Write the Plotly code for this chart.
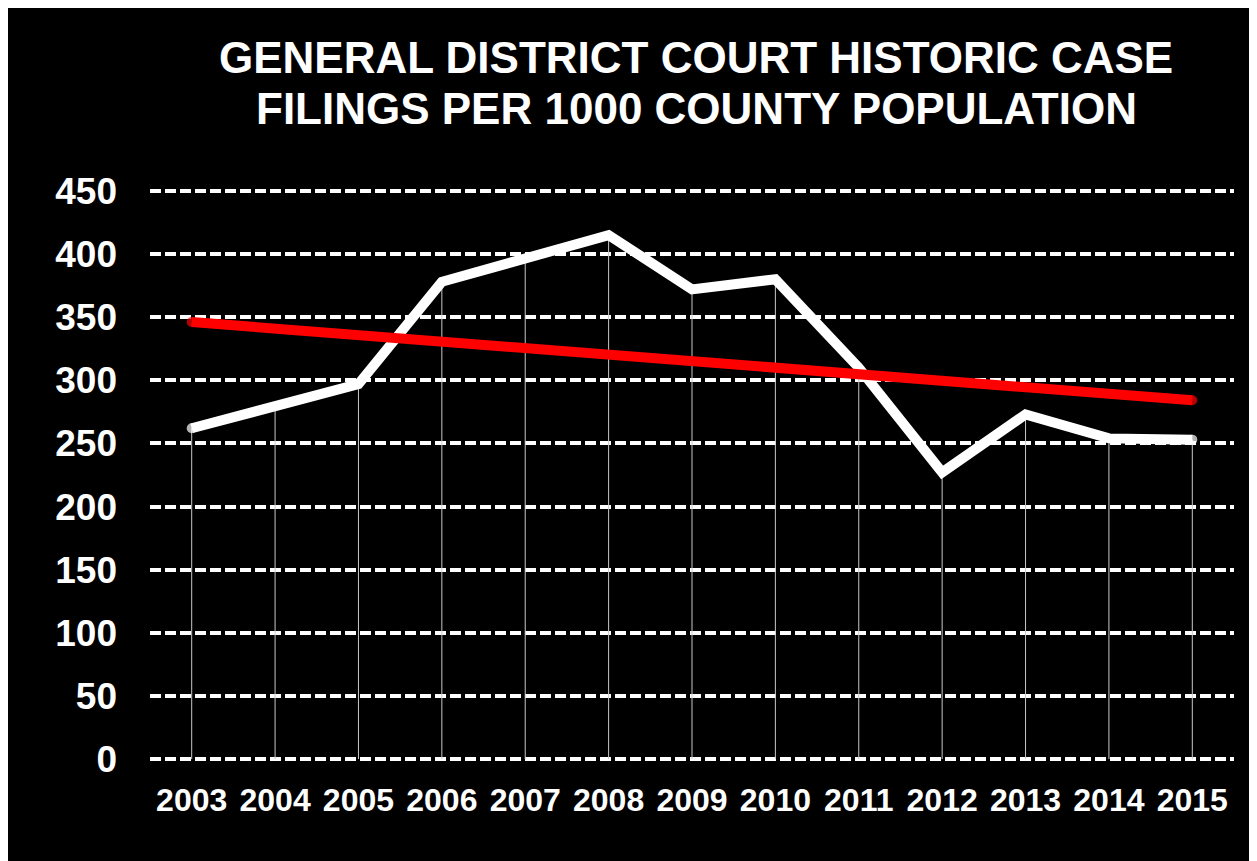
import numpy as np
import plotly.graph_objects as go

years = ["2003", "2004", "2005", "2006", "2007", "2008", "2009",
         "2010", "2011", "2012", "2013", "2014", "2015"]
filings = [262, 280, 297, 378, 396, 415, 372, 380, 310, 227, 273, 254, 253]
y_ticks = [0, 50, 100, 150, 200, 250, 300, 350, 400, 450]

title_lines = ["GENERAL DISTRICT COURT HISTORIC CASE",
               "FILINGS PER 1000 COUNTY POPULATION"]

# linear trendline of the series (as in a spreadsheet trendline)
idx = np.arange(len(filings))
slope, intercept = np.polyfit(idx, filings, 1)
trend = (slope * idx + intercept).tolist()

n = len(years)
end_sizes = [10] + [0] * (n - 2) + [10]
FONT = "Liberation Sans, Arial, sans-serif"

fig = go.Figure()

# drop lines from each point to the axis
fig.add_trace(go.Scatter(
    x=years, y=filings, mode="markers",
    marker=dict(size=1, opacity=0),
    error_y=dict(type="data", symmetric=False, array=[0] * n,
                 arrayminus=filings, width=0, thickness=1, color="#c8c8c8"),
    hoverinfo="skip", showlegend=False,
))

fig.add_trace(go.Scatter(
    x=years, y=filings, mode="lines+markers",
    line=dict(color="white", width=10),
    marker=dict(size=end_sizes, color="white", line=dict(width=0)),
    showlegend=False,
))

fig.add_trace(go.Scatter(
    x=years, y=trend, mode="lines+markers",
    line=dict(color="#ff0000", width=10),
    marker=dict(size=end_sizes, color="#ff0000", line=dict(width=0)),
    showlegend=False,
))

for line_text, ypos in zip(title_lines, [1.2299, 1.1407]):
    fig.add_annotation(
        text="<b>" + line_text + "</b>", xref="paper", yref="paper",
        x=0.5037, y=ypos, xanchor="center", yanchor="middle",
        showarrow=False, font=dict(size=44, color="white", family=FONT),
    )

fig.update_layout(
    width=1249, height=853,
    margin=dict(l=142, r=23, t=181, b=100),
    paper_bgcolor="black", plot_bgcolor="black",
    font=dict(family=FONT, color="white"),
    showlegend=False,
)

fig.update_xaxes(
    type="category", range=[-0.5, n - 0.5],
    showgrid=False, zeroline=False, showline=False,
    ticks="", ticklabelstandoff=17,
    tickfont=dict(size=32, color="white", family=FONT, weight="bold"),
)

fig.update_yaxes(
    range=[-1.5, 451.5], tickvals=y_ticks,
    showgrid=True, gridcolor="white", gridwidth=4, griddash="11px,4px",
    zeroline=False, showline=False, ticks="", ticklabelstandoff=32,
    tickfont=dict(size=37, color="white", family=FONT, weight="bold"),
)

fig.write_html("out.html")
